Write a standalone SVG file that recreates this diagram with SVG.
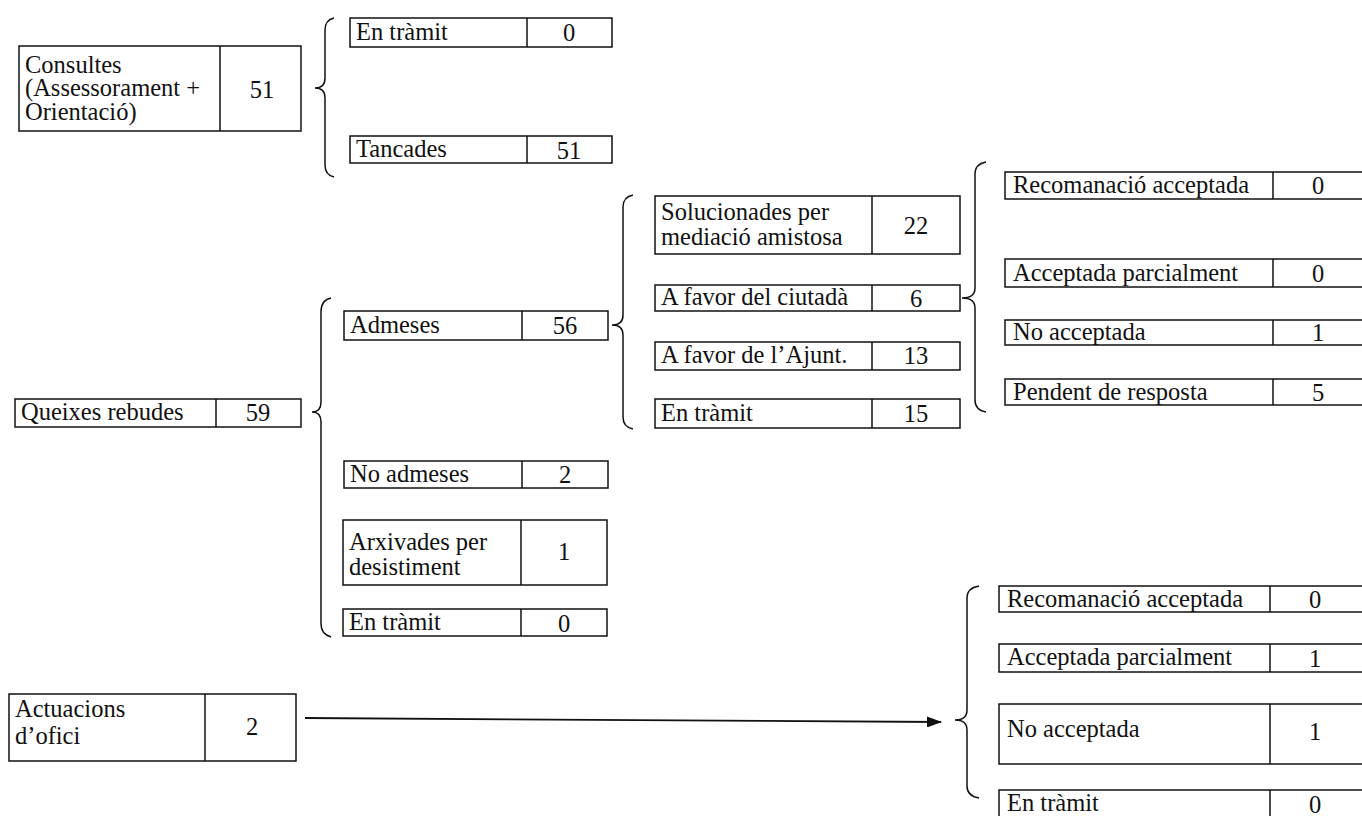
<svg xmlns="http://www.w3.org/2000/svg" width="1362" height="816" viewBox="0 0 1362 816">
<defs>
<style>
.b{fill:none;stroke:#111;stroke-width:1.5}
.t{font-family:"Liberation Serif","Times New Roman",serif;font-size:24.5px;fill:#111}
.n{font-family:"Liberation Serif","Times New Roman",serif;font-size:24.5px;fill:#111;text-anchor:middle}
.br{fill:none;stroke:#111;stroke-width:1.5}
</style>
<marker id="ah" markerWidth="15" markerHeight="11" refX="14" refY="5.5" orient="auto" markerUnits="userSpaceOnUse">
<path d="M0,0 L15,5.5 L0,11 Z" fill="#111"/>
</marker>
</defs>
<rect width="1362" height="816" fill="#fff"/>

<g id="consultes">
<rect class="b" x="19" y="46" width="282" height="85"/><line class="b" x1="220" y1="46" x2="220" y2="131"/>
<text class="t" x="25" y="73">Consultes</text>
<text class="t" x="25" y="96">(Assessorament +</text>
<text class="t" x="25" y="120">Orientació)</text>
<text class="n" x="262" y="98">51</text>
</g>
<g id="cons-entramit">
<rect class="b" x="350" y="18" width="262" height="29"/><line class="b" x1="527" y1="18" x2="527" y2="47"/>
<text class="t" x="356" y="40">En tràmit</text><text class="n" x="569" y="41">0</text>
</g>
<g id="cons-tancades">
<rect class="b" x="350" y="136" width="262" height="27"/><line class="b" x1="527" y1="136" x2="527" y2="163"/>
<text class="t" x="356" y="157">Tancades</text><text class="n" x="569" y="159">51</text>
</g>

<g id="queixes">
<rect class="b" x="15" y="399" width="286" height="28"/><line class="b" x1="216" y1="399" x2="216" y2="427"/>
<text class="t" x="21" y="420">Queixes rebudes</text><text class="n" x="258" y="421">59</text>
</g>
<g id="admeses">
<rect class="b" x="344" y="311" width="264" height="29"/><line class="b" x1="522" y1="311" x2="522" y2="340"/>
<text class="t" x="350" y="333">Admeses</text><text class="n" x="565" y="334">56</text>
</g>
<g id="noadmeses">
<rect class="b" x="344" y="461" width="264" height="27"/><line class="b" x1="522" y1="461" x2="522" y2="488"/>
<text class="t" x="350" y="482">No admeses</text><text class="n" x="565" y="483">2</text>
</g>
<g id="arxivades">
<rect class="b" x="343" y="520" width="264" height="65"/><line class="b" x1="521" y1="520" x2="521" y2="585"/>
<text class="t" x="349" y="550">Arxivades per</text>
<text class="t" x="349" y="575">desistiment</text>
<text class="n" x="564" y="560">1</text>
</g>
<g id="queixes-entramit">
<rect class="b" x="343" y="609" width="264" height="27"/><line class="b" x1="521" y1="609" x2="521" y2="636"/>
<text class="t" x="349" y="630">En tràmit</text><text class="n" x="564" y="632">0</text>
</g>

<g id="solucionades">
<rect class="b" x="655" y="196" width="305" height="58"/><line class="b" x1="872" y1="196" x2="872" y2="254"/>
<text class="t" x="661" y="220">Solucionades per</text>
<text class="t" x="661" y="245">mediació amistosa</text>
<text class="n" x="916" y="234">22</text>
</g>
<g id="favor-ciutada">
<rect class="b" x="655" y="285" width="305" height="26"/><line class="b" x1="872" y1="285" x2="872" y2="311"/>
<text class="t" x="661" y="305">A favor del ciutadà</text><text class="n" x="916" y="307">6</text>
</g>
<g id="favor-ajunt">
<rect class="b" x="655" y="342" width="305" height="28"/><line class="b" x1="872" y1="342" x2="872" y2="370"/>
<text class="t" x="661" y="363">A favor de l’Ajunt.</text><text class="n" x="916" y="364">13</text>
</g>
<g id="adm-entramit">
<rect class="b" x="655" y="399" width="305" height="29"/><line class="b" x1="872" y1="399" x2="872" y2="428"/>
<text class="t" x="661" y="421">En tràmit</text><text class="n" x="916" y="422">15</text>
</g>

<g id="r-recomanacio">
<rect class="b" x="1005" y="172" width="370" height="27"/><line class="b" x1="1273" y1="172" x2="1273" y2="199"/>
<text class="t" x="1013" y="193">Recomanació acceptada</text><text class="n" x="1318" y="194">0</text>
</g>
<g id="r-parcial">
<rect class="b" x="1005" y="259" width="370" height="28"/><line class="b" x1="1273" y1="259" x2="1273" y2="287"/>
<text class="t" x="1013" y="281">Acceptada parcialment</text><text class="n" x="1318" y="282">0</text>
</g>
<g id="r-noacceptada">
<rect class="b" x="1005" y="320" width="370" height="25"/><line class="b" x1="1273" y1="320" x2="1273" y2="345"/>
<text class="t" x="1013" y="340">No acceptada</text><text class="n" x="1318" y="341">1</text>
</g>
<g id="r-pendent">
<rect class="b" x="1005" y="379" width="370" height="26"/><line class="b" x1="1273" y1="379" x2="1273" y2="405"/>
<text class="t" x="1013" y="400">Pendent de resposta</text><text class="n" x="1318" y="401">5</text>
</g>

<g id="actuacions">
<rect class="b" x="9" y="694" width="287" height="67"/><line class="b" x1="205" y1="694" x2="205" y2="761"/>
<text class="t" x="15" y="717">Actuacions</text>
<text class="t" x="15" y="744">d’ofici</text>
<text class="n" x="252" y="735">2</text>
</g>
<g id="o-recomanacio">
<rect class="b" x="999" y="586" width="370" height="26"/><line class="b" x1="1270" y1="586" x2="1270" y2="612"/>
<text class="t" x="1007" y="607">Recomanació acceptada</text><text class="n" x="1315" y="608">0</text>
</g>
<g id="o-parcial">
<rect class="b" x="999" y="644" width="370" height="28"/><line class="b" x1="1270" y1="644" x2="1270" y2="672"/>
<text class="t" x="1007" y="665">Acceptada parcialment</text><text class="n" x="1315" y="667">1</text>
</g>
<g id="o-noacceptada">
<rect class="b" x="999" y="704" width="370" height="60"/><line class="b" x1="1270" y1="704" x2="1270" y2="764"/>
<text class="t" x="1007" y="737">No acceptada</text><text class="n" x="1315" y="740">1</text>
</g>
<g id="o-entramit">
<rect class="b" x="999" y="790" width="370" height="30"/><line class="b" x1="1270" y1="790" x2="1270" y2="820"/>
<text class="t" x="1007" y="811">En tràmit</text><text class="n" x="1315" y="813">0</text>
</g>

<g id="connectors">
<path class="br" d="M334,18 Q325,20 325,30 L325,78 Q325,88 315,88 Q325,88 325,98 L325,165 Q325,175 334,177"/>
<path class="br" d="M331,298 Q321,300 321,312 L321,402 Q321,412 312,412 Q321,412 321,422 L321,624 Q321,634 331,637"/>
<path class="br" d="M633,195 Q623,197 623,207 L623,315 Q623,325 612,325 Q623,325 623,335 L623,417 Q623,427 633,429"/>
<path class="br" d="M986,162 Q975,164 975,174 L975,288 Q975,298 962,298 Q975,298 975,308 L975,400 Q975,410 986,412"/>
<path class="br" d="M979,586 Q967,588 967,598 L967,710 Q967,720 955,720 Q967,720 967,730 L967,786 Q967,796 979,798"/>
<line x1="305" y1="718" x2="941" y2="722" stroke="#111" stroke-width="1.8" marker-end="url(#ah)"/>
</g>
</svg>
